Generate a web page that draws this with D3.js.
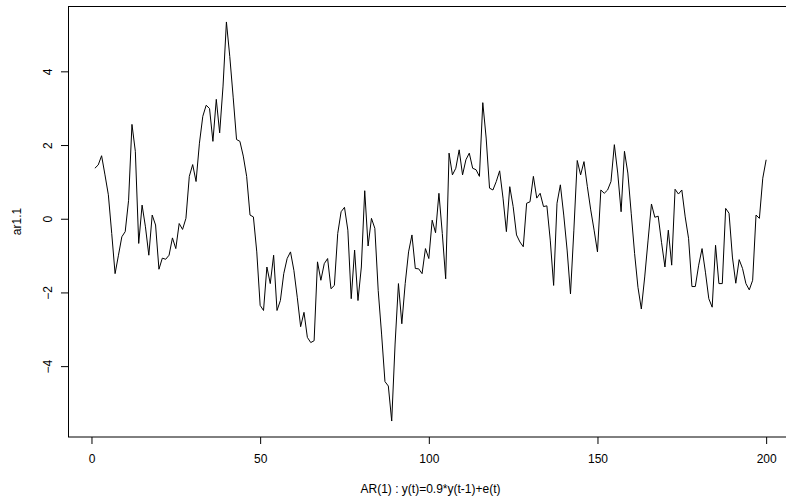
<!DOCTYPE html>
<html>
<head>
<meta charset="utf-8">
<script src="https://cdn.jsdelivr.net/npm/d3@7"></script>
<style>
  body { margin: 0; background: #fff; }
  svg { display: block; }
  text { font-family: "Liberation Sans", Arial, sans-serif; fill: #000; }
  .line { fill: none; stroke: #000; stroke-width: 1; }
</style>
</head>
<body>
<div id="area"></div>
<script>
// values, t = 1..200
var ar1 = [
   1.37,  1.46,  1.71,  1.19,  0.65, -0.40, -1.49, -0.99, -0.49, -0.35,
   0.50,  2.56,  1.83, -0.67,  0.37, -0.22, -0.99,  0.10, -0.17, -1.37,
  -1.07, -1.10, -0.99, -0.52, -0.81, -0.13, -0.29,  0.01,  1.15,  1.47,
   1.01,  2.05,  2.78,  3.08,  2.99,  2.10,  3.24,  2.33,  3.60,  5.34,
   4.40,  3.30,  2.15,  2.10,  1.70,  1.15,  0.10,  0.05, -0.90, -2.35,
  -2.49, -1.31, -1.76, -0.99, -2.49, -2.22, -1.49, -1.08, -0.90, -1.40,
  -2.13, -2.93, -2.54, -3.22, -3.36, -3.31, -1.17, -1.67, -1.22, -1.08,
  -1.90, -1.81, -0.40,  0.19,  0.31, -0.31, -2.17, -0.85, -2.22, -1.31,
   0.76, -0.74,  0.01, -0.26, -1.95, -3.13, -4.42, -4.54, -5.49, -3.40,
  -1.76, -2.85, -1.76, -0.90, -0.44, -1.35, -1.36, -1.49, -0.81, -1.08,
  -0.04, -0.38,  0.69, -0.40, -1.63,  1.78,  1.19,  1.37,  1.87,  1.19,
   1.60,  1.78,  1.37,  1.33,  1.15,  3.15,  2.19,  0.83,  0.78,  1.01,
   1.30,  0.56, -0.35,  0.87,  0.33, -0.44, -0.63, -0.76,  0.42,  0.46,
   1.15,  0.56,  0.69,  0.33,  0.35, -0.58, -1.81,  0.42,  0.92,  0.10,
  -0.85, -2.04, -0.31,  1.58,  1.19,  1.55,  0.87,  0.24, -0.31, -0.90,
   0.78,  0.69,  0.78,  1.01,  2.01,  1.24,  0.19,  1.83,  1.24,  0.15,
  -0.94, -1.86, -2.45, -1.58, -0.58,  0.40,  0.04,  0.07, -0.65, -1.31,
  -0.31, -1.26,  0.80,  0.67,  0.78,  0.05, -0.53, -1.84, -1.84, -1.26,
  -0.81, -1.45, -2.17, -2.40, -0.72, -1.76, -1.76,  0.28,  0.15, -1.04,
  -1.75, -1.11, -1.35, -1.76, -1.93, -1.67,  0.10,  0.01,  1.10,  1.60
];
var xTicks = [0, 50, 100, 150, 200];
var yTicks = [-4, -2, 0, 2, 4];
var xLabel = "AR(1) : y(t)=0.9*y(t-1)+e(t)";
var yLabel = "ar1.1";

var data = ar1.map(function(v, i) { return {Time: i + 1, Value: v}; });

var W = 786, H = 500;
var margin = {top: 6, right: -7, bottom: 63, left: 68},
    width = W - margin.left - margin.right,
    height = H - margin.top - margin.bottom;

// R style axis range: data range stretched by 4%
var xr = d3.extent(data, function(d) { return d.Time; }),
    yr = d3.extent(data, function(d) { return d.Value; });
var xp = (xr[1] - xr[0]) * 0.04, yp = (yr[1] - yr[0]) * 0.04;

var x = d3.scaleLinear()
    .domain([xr[0] - xp, xr[1] + xp])
    .range([0, width]);

var y = d3.scaleLinear()
    .domain([yr[0] - yp, yr[1] + yp])
    .range([height, 0]);

var xAxis = d3.axisBottom(x)
    .tickValues(xTicks)
    .tickSize(7)
    .tickSizeOuter(0);

var yAxis = d3.axisLeft(y)
    .tickValues(yTicks)
    .tickSize(7)
    .tickSizeOuter(0);

var line = d3.line()
    .x(function(d) { return x(d.Time); })
    .y(function(d) { return y(d.Value); });

var svg = d3.select("#area").append("svg")
    .attr("width", W)
    .attr("height", H)
  .append("g")
    .attr("transform", "translate(" + margin.left + "," + margin.top + ")");

svg.append("path")
    .attr("class", "line")
    .attr("d", line(data));

var gx = svg.append("g")
    .attr("transform", "translate(0," + height + ")")
    .call(xAxis);
gx.select(".domain").remove();
gx.selectAll("line").attr("stroke", "#000");
gx.selectAll("text")
    .attr("y", 26)
    .attr("dy", 0)
    .style("font-size", "12px")
    .style("font-family", "Liberation Sans, Arial, sans-serif")
    .attr("fill", "#000");

var gy = svg.append("g")
    .call(yAxis);
gy.select(".domain").remove();
gy.selectAll("line").attr("stroke", "#000");
gy.selectAll("text")
    .attr("transform", "rotate(-90)")
    .attr("x", 0)
    .attr("y", -16)
    .attr("dy", 0)
    .style("text-anchor", "middle")
    .style("font-size", "12px")
    .style("font-family", "Liberation Sans, Arial, sans-serif")
    .attr("fill", "#000");

// plot box
svg.append("rect")
    .attr("x", 0.5)
    .attr("y", 0.5)
    .attr("width", width)
    .attr("height", height - 0.5)
    .attr("fill", "none")
    .attr("stroke", "#000")
    .attr("stroke-width", 1);

svg.append("text")
    .attr("x", width / 2)
    .attr("y", height + 56)
    .style("text-anchor", "middle")
    .style("font-size", "12px")
    .text(xLabel);

svg.append("text")
    .attr("transform", "translate(-47," + (height / 2) + ") rotate(-90)")
    .style("text-anchor", "middle")
    .style("font-size", "12px")
    .text(yLabel);
</script>
</body>
</html>
